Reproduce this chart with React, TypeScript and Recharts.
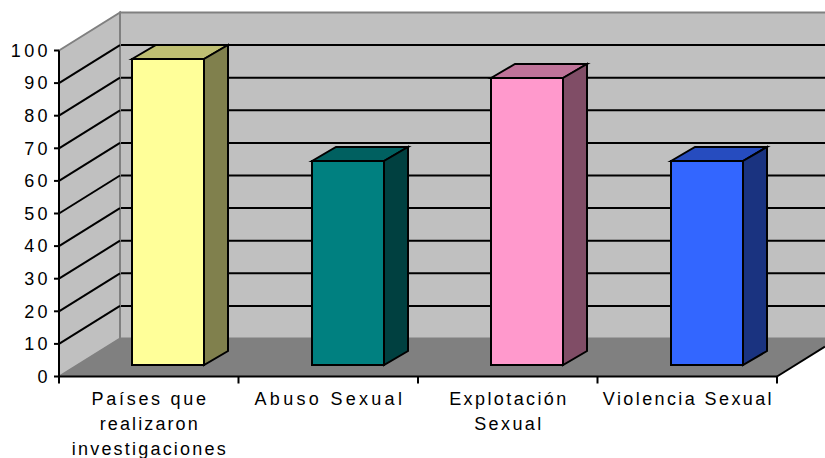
import React from "react";
import { BarChart, Bar, XAxis, YAxis, CartesianGrid, ReferenceArea } from "recharts";

const categories = ["Países que realizaron investigaciones", "Abuso Sexual", "Explotación Sexual", "Violencia Sexual"];
const labelLines = [["Países que", "realizaron", "investigaciones"], ["Abuso Sexual"], ["Explotación", "Sexual"], ["Violencia Sexual"]];
const labelTracking = [[2.7, 2.1, 2.2], [3.3], [2.4, 2.4], [2.4]];
const values = [94, 62.6, 88, 62.6];
const yTicks = [0, 10, 20, 30, 40, 50, 60, 70, 80, 90, 100];
const frontColors = ["#FFFF99", "#008080", "#FF99CC", "#3366FF"];
const topColors = ["#BFBF73", "#006060", "#BF7399", "#264CBF"];
const sideColors = ["#80804D", "#004040", "#804D66", "#1A3380"];

const data = categories.map((name, i) => ({ name, value: values[i], front: frontColors[i], top: topColors[i], side: sideColors[i] }));

const WALL_DX = 61;
const WALL_DY = 38;
const W = 825;
const BAR_DX = 19;
const BAR_DY = 11.5;
const DEPTH_X = 24;
const DEPTH_Y = 14;
const FONT = "'Liberation Sans', Arial, sans-serif";

function Walls(props: any) {
  const { x, y, width, height } = props;
  const b = y + height;
  const r = x + width;
  return (
    <g>
      <polygon points={`${x},${y} ${x + WALL_DX},${y - WALL_DY} ${x + WALL_DX},${b - WALL_DY} ${x},${b}`} fill="#C0C0C0" stroke="#808080" strokeWidth={2} />
      <rect x={x + WALL_DX} y={y - WALL_DY} width={W - x - WALL_DX + 2} height={height} fill="#C0C0C0" stroke="#808080" strokeWidth={2} />
      <polygon points={`${x},${b} ${x + WALL_DX},${b - WALL_DY} ${W},${b - WALL_DY} ${W},${b - 30} ${r},${b}`} fill="#808080" />
      <line x1={r} y1={b} x2={W} y2={b - 30} stroke="#000" strokeWidth={2} />
    </g>
  );
}

function GridLine(props: any) {
  const { x1, y1 } = props;
  if (y1 == null) return <g />;
  const isEnd = Math.abs(y1 - 50.5) < 2 || Math.abs(y1 - 376.5) < 2;
  if (isEnd) return <g />;
  return (
    <g>
      <line x1={x1} y1={y1} x2={x1 + WALL_DX} y2={y1 - WALL_DY} stroke="#000" strokeWidth={2} />
      <line x1={x1 + WALL_DX + 1} y1={y1 - WALL_DY} x2={W} y2={y1 - WALL_DY} stroke="#000" strokeWidth={2} />
    </g>
  );
}

function Bar3D(props: any) {
  const { x, y, width, height, payload } = props;
  const l = Math.round(x + BAR_DX);
  const t = Math.round(y - BAR_DY);
  const r = l + Math.round(width);
  const b = Math.round(y + height - BAR_DY);
  const s = { stroke: "#000", strokeWidth: 2, strokeLinejoin: "miter" as const };
  return (
    <g>
      <polygon points={`${l},${t} ${l + DEPTH_X},${t - DEPTH_Y} ${r + DEPTH_X},${t - DEPTH_Y} ${r},${t}`} fill={payload.top} {...s} />
      <polygon points={`${r},${t} ${r + DEPTH_X},${t - DEPTH_Y} ${r + DEPTH_X},${b - DEPTH_Y} ${r},${b}`} fill={payload.side} {...s} />
      <rect x={l} y={t} width={r - l} height={b - t} fill={payload.front} {...s} />
    </g>
  );
}

function CategoryTick(props: any) {
  const { x, y, index } = props;
  const half = 718 / categories.length / 2;
  const lines = labelLines[index] || [];
  const tracking = labelTracking[index] || [];
  return (
    <g>
      <line x1={x - half} y1={y - 8} x2={x - half} y2={y - 1} stroke="#000" strokeWidth={2} />
      {index === categories.length - 1 && <line x1={x + half} y1={y - 8} x2={x + half} y2={y - 1} stroke="#000" strokeWidth={2} />}
      <text textAnchor="middle" fontFamily={FONT} fontSize={18} fill="#000">
        {lines.map((ln, i) => (
          <tspan key={i} x={x + tracking[i] / 2} y={y + 20 + i * 25} letterSpacing={tracking[i]}>{ln}</tspan>
        ))}
      </text>
    </g>
  );
}

export default function App() {
  return (
    <div style={{ position: "absolute", left: 0, top: 0 }}>
      <BarChart width={825} height={458} data={data} margin={{ top: 50.5, right: 48, bottom: 0, left: 0 }} barSize={72}>
        <ReferenceArea y1={0} y2={100} shape={Walls} ifOverflow="visible" fill="none" stroke="none" zIndex={-200} />
        <CartesianGrid vertical={false} horizontal={GridLine} />
        <XAxis dataKey="name" interval={0} height={81.5} tick={CategoryTick} tickLine={false} axisLine={{ stroke: "#000", strokeWidth: 2 }} />
        <YAxis
          domain={[0, 100]}
          ticks={yTicks}
          width={59}
          interval={0}
          tickSize={5}
          tickMargin={3}
          tickLine={{ stroke: "#000", strokeWidth: 2 }}
          axisLine={{ stroke: "#000", strokeWidth: 2 }}
          tick={{ fill: "#000", fontFamily: FONT, fontSize: 18, letterSpacing: 3.4 }}
        />
        <Bar dataKey="value" shape={Bar3D} isAnimationActive={false} />
      </BarChart>
    </div>
  );
}
